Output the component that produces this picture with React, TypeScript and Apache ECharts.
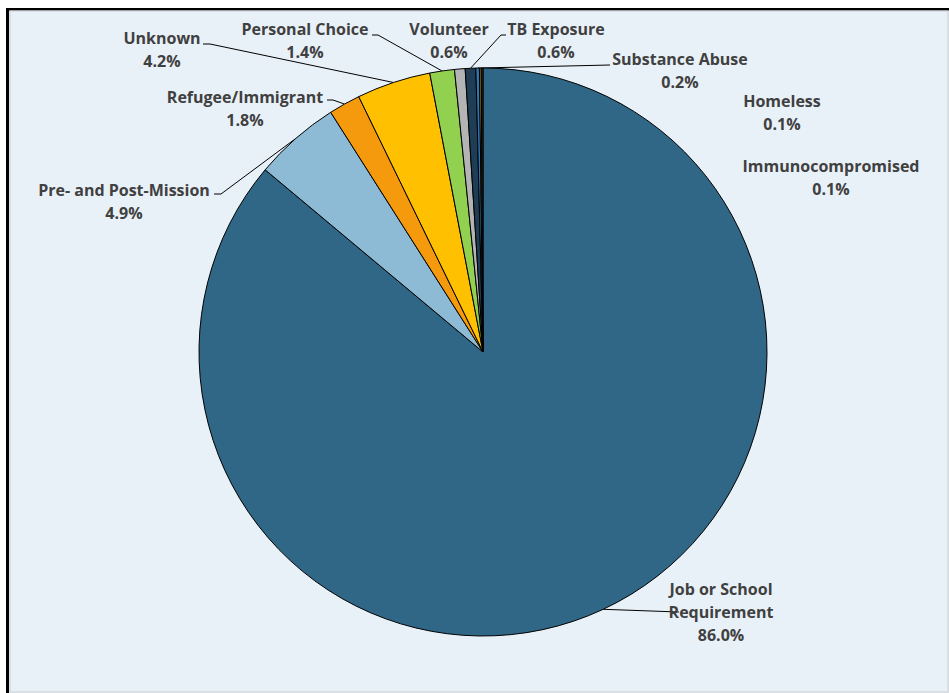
import React, { useEffect, useRef } from "react";
import * as echarts from "echarts";

const categories = [
  "Job or School\nRequirement",
  "Pre- and Post-Mission",
  "Refugee/Immigrant",
  "Unknown",
  "Personal Choice",
  "Volunteer",
  "TB Exposure",
  "Substance Abuse",
  "Homeless",
  "Immunocompromised",
];
const percents = [86.0, 4.9, 1.8, 4.2, 1.4, 0.6, 0.6, 0.2, 0.1, 0.1];
const sliceColors = [
  "#316786",
  "#8dbad4",
  "#f59a0c",
  "#ffc000",
  "#92d050",
  "#b4b4b4",
  "#1f3d55",
  "#2e75b6",
  "#bf8f00",
  "#2b2b2b",
];
// label text-block centres (page px)
const labelCenters: number[][] = [
  [721, 612],
  [124, 201.5],
  [245, 108.5],
  [162, 49.5],
  [305, 40.5],
  [449, 40.5],
  [556, 40.5],
  [680, 70],
  [782, 112],
  [831, 177],
];
// leader line ends (null = no leader line)
const leaderEnds: (number[][] | null)[] = [
  [[679, 612]],
  [[221, 194], [214, 194]],
  [[333, 100], [327, 100]],
  [[210, 44], [203, 44]],
  [[378, 35], [372, 35]],
  null,
  [[501, 35], [506, 35]],
  [[610, 65]],
  null,
  null,
];

export default function App() {
  const ref = useRef<HTMLDivElement>(null);
  useEffect(() => {
    if (!ref.current) return;
    const chart = echarts.init(ref.current, null, { renderer: "svg" });
    const font = "Open Sans";
    chart.setOption({
      animation: false,
      backgroundColor: "#ffffff",
      graphic: [
        {
          type: "rect",
          z: -10,
          shape: { x: 7.5, y: 9.5, width: 1000, height: 1000 },
          style: { fill: "#e9f1f8", stroke: "#000", lineWidth: 3 },
          silent: true,
        },
        {
          type: "rect",
          z: -9,
          shape: { x: 10, y: 11, width: 938, height: 681 },
          style: { fill: "#e9f1f8", stroke: "#d3d9dd", lineWidth: 1.5 },
          silent: true,
        },
      ],
      series: [
        {
          type: "pie",
          center: [483, 352],
          radius: [0, 284],
          startAngle: 90,
          clockwise: true,
          avoidLabelOverlap: false,
          itemStyle: { borderColor: "#000", borderWidth: 1 },
          label: {
            show: true,
            position: "outside",
            fontFamily: font,
            fontWeight: "bold",
            fontSize: 16,
            lineHeight: 23,
            color: "#404040",
            align: "center",
            formatter: (p: any) => p.name + "\n" + p.value.toFixed(1) + "%",
          },
          labelLine: {
            show: true,
            length: 10,
            length2: 10,
            lineStyle: { color: "#000", width: 1 },
          },
          emphasis: { disabled: true },
          labelLayout: (params: any) => {
            const i = params.dataIndex;
            const c = labelCenters[i];
            const res: any = {
              x: c[0],
              y: c[1],
              align: "center",
              verticalAlign: "middle",
            };
            const ends = leaderEnds[i];
            if (ends && params.labelLinePoints && params.labelLinePoints[0]) {
              res.labelLinePoints = [params.labelLinePoints[0], ...ends];
            }
            return res;
          },
          data: categories.map((name, i) => ({
            name,
            value: percents[i],
            itemStyle: { color: sliceColors[i] },
            labelLine: { show: leaderEnds[i] !== null },
          })),
        },
      ],
    });
    return () => chart.dispose();
  }, []);
  return (
    <div
      ref={ref}
      style={{ position: "fixed", left: 0, top: 0, width: 949, height: 693 }}
    />
  );
}
